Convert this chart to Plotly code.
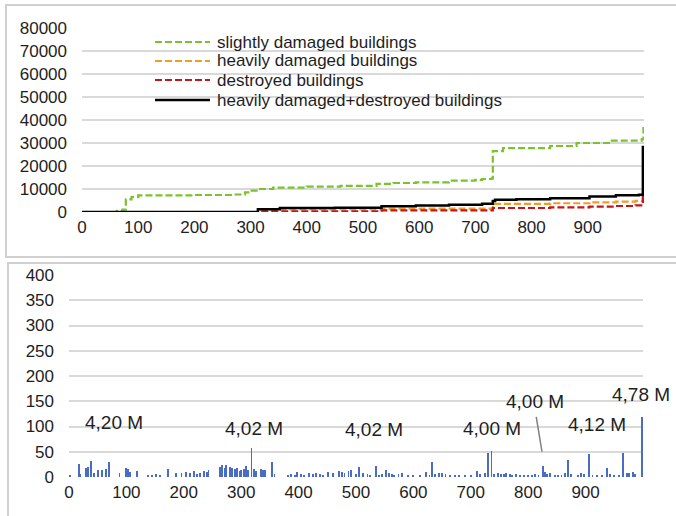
import plotly.graph_objects as go

# ---------------- data: top panel (cumulative counts, step lines) ----------------
slight_x = [0, 62, 72, 78, 88, 100, 200, 270, 290, 300, 313, 340, 400, 460, 524, 554, 594, 653, 700, 712, 729, 731, 749, 833, 880, 940, 996, 999, 1000]
slight_y = [0, 500, 1000, 5500, 6500, 7200, 7400, 7600, 8500, 9300, 10000, 10600, 11000, 11400, 12200, 12600, 12900, 13600, 14000, 14350, 14650, 26500, 27800, 28700, 30000, 31000, 31700, 36500, 36500]

heavy_x = [0, 313, 352, 533, 731, 735, 833, 903, 950, 985, 998, 1000]
heavy_y = [0, 800, 1100, 1500, 2800, 3500, 3800, 4200, 4500, 4800, 6600, 6600]

destroyed_x = [0, 313, 533, 731, 833, 903, 950, 985, 998, 1000]
destroyed_y = [0, 300, 700, 1750, 2000, 2300, 2600, 2900, 8800, 8800]

combined_x = [0, 313, 352, 450, 533, 594, 653, 712, 731, 735, 773, 833, 903, 950, 991, 998, 1000]
combined_y = [0, 1200, 1700, 1900, 2500, 2800, 3200, 3600, 4800, 5300, 5500, 5950, 6700, 7250, 7500, 28300, 28300]

series_names = ["slightly damaged buildings", "heavily damaged buildings",
                "destroyed buildings", "heavily damaged+destroyed buildings"]

# ---------------- data: bottom panel (spikes) ----------------
bar_x = [2, 17, 20, 30, 33, 38, 43, 51, 58, 64, 70, 88, 99, 102, 106, 118, 138, 144, 152, 159,
         173, 187, 196, 204, 211, 217, 223, 229, 235, 240, 243, 263, 267, 271, 274, 280, 284, 289, 293, 297,
         300, 305, 309, 312, 318, 323, 326, 334, 338, 342, 353, 358, 381, 387, 393, 398, 404, 410, 418, 425,
         430, 437, 443, 452, 460, 470, 475, 480, 487, 492, 500, 506, 512, 520, 524, 535, 540, 546, 553, 557,
         563, 566, 574, 580, 590, 600, 612, 622, 628, 633, 637, 645, 650, 656, 663, 672, 680, 690, 700, 711,
         716, 724, 730, 736, 740, 748, 752, 758, 762, 768, 772, 778, 785, 792, 800, 806, 812, 818, 825, 829,
         833, 838, 846, 852, 858, 864, 870, 874, 886, 892, 898, 906, 912, 920, 928, 938, 942, 950, 958, 965,
         972, 976, 982, 986, 999]
bar_y = [3, 26, 5, 17, 20, 32, 7, 14, 14, 15, 29, 7, 18, 16, 10, 12, 3, 3, 5, 3,
         16, 7, 8, 10, 8, 11, 6, 8, 11, 10, 14, 20, 23, 18, 23, 20, 17, 15, 18, 12,
         14, 15, 22, 13, 57, 16, 12, 15, 13, 14, 29, 6, 4, 5, 4, 10, 6, 4, 8, 6,
         7, 5, 3, 10, 8, 12, 10, 8, 12, 13, 5, 20, 8, 6, 3, 22, 3, 5, 13, 8,
         6, 3, 6, 7, 3, 3, 3, 10, 3, 30, 5, 8, 8, 6, 3, 3, 3, 2, 2, 12,
         5, 8, 48, 52, 5, 7, 6, 6, 8, 5, 3, 5, 2, 3, 2, 3, 6, 4, 22, 10,
         6, 8, 3, 4, 3, 8, 33, 5, 4, 8, 6, 45, 3, 2, 2, 17, 5, 3, 2, 48,
         8, 8, 10, 5, 119]

label_text = ["4,20 M", "4,02 M", "4,02 M", "4,00 M", "4,00 M", "4,12 M", "4,78 M"]
label_x = [78, 323, 532, 737, 812, 920, 996]
label_y = [107, 97, 94, 97, 149, 103, 163]

leader_x = [814, 824]
leader_y = [119, 50]

top_ticks_x = list(range(0, 1000, 100))
top_ticks_y = list(range(0, 80001, 10000))
bot_ticks_y = list(range(0, 401, 50))

# ---------------- styling ----------------
W, H = 676, 516
FONT = "Liberation Sans, Arial, Helvetica, sans-serif"
TXT = "#1e1e1e"
GRID = "#d9d9d9"
colors = ["#7cc22c", "#f29b26", "#c4161c", "#000000"]
dashes = ["7px,3px", "7px,3px", "7px,3px", "solid"]
widths = [2.2, 2.2, 2.2, 2.5]

fig = go.Figure()
for xs, ys, name, c, d, w in zip([slight_x, heavy_x, destroyed_x, combined_x],
                                 [slight_y, heavy_y, destroyed_y, combined_y],
                                 series_names, colors, dashes, widths):
    fig.add_trace(go.Scatter(x=xs, y=ys, mode="lines", name=name, line_shape="hv",
                             line=dict(color=c, dash=d, width=w), showlegend=False,
                             xaxis="x", yaxis="y"))

fig.add_trace(go.Bar(x=bar_x, y=bar_y, width=1.6, marker=dict(color="#4a6cc4", line_width=0),
                     showlegend=False, xaxis="x2", yaxis="y2"))


def px_x(p):
    return p / W


def px_y(p):
    return 1 - p / H


axis_font = dict(family=FONT, size=17, color=TXT)
common = dict(zeroline=False, showline=False, ticks="", tickfont=axis_font, automargin=False)

fig.update_layout(
    template="none",
    width=W, height=H,
    margin=dict(l=0, r=0, t=0, b=0, pad=0),
    paper_bgcolor="white", plot_bgcolor="white",
    font=dict(family=FONT, color=TXT),
    xaxis=dict(domain=[px_x(82), px_x(644)], range=[0, 1000], tickvals=top_ticks_x,
               showgrid=False, anchor="y", ticklabelstandoff=3, **common),
    yaxis=dict(domain=[px_y(212), px_y(28)], range=[0, 80000], tickvals=top_ticks_y,
               tickformat="d", showgrid=True, gridcolor=GRID, gridwidth=1.5,
               anchor="x", ticklabelstandoff=14, **common),
    xaxis2=dict(domain=[px_x(69), px_x(643)], range=[0, 1000], tickvals=top_ticks_x,
                showgrid=False, anchor="y2", ticklabelstandoff=3, **common),
    yaxis2=dict(domain=[px_y(477), px_y(275)], range=[0, 400], tickvals=bot_ticks_y,
                tickformat="d", showgrid=True, gridcolor=GRID, gridwidth=1.5,
                anchor="x2", ticklabelstandoff=14, **common),
    bargap=0,
    showlegend=False,
)

shapes = [
    # panel frames
    dict(type="rect", xref="paper", yref="paper", x0=px_x(6), x1=1.02, y0=px_y(257), y1=px_y(5),
         line=dict(color="#d0d0d0", width=2), fillcolor="rgba(0,0,0,0)", layer="below"),
    dict(type="rect", xref="paper", yref="paper", x0=px_x(8), x1=1.02, y0=-0.02, y1=px_y(263),
         line=dict(color="#d0d0d0", width=2), fillcolor="rgba(0,0,0,0)", layer="below"),
    # leader line for annotation
    dict(type="line", xref="x2", yref="y2", x0=leader_x[0], y0=leader_y[0], x1=leader_x[1], y1=leader_y[1],
         line=dict(color="#808080", width=1.5)),
]

# manual legend (long line samples as in the reference)
leg_rows = [42, 61, 80, 100]
annotations = []
for row, name, c, d, w in zip(leg_rows, series_names, colors, dashes, widths):
    shapes.append(dict(type="line", xref="paper", yref="paper", x0=px_x(155), x1=px_x(210),
                       y0=px_y(row), y1=px_y(row), line=dict(color=c, dash=d, width=w)))
    annotations.append(dict(xref="paper", yref="paper", x=px_x(215), y=px_y(row), text=name,
                            showarrow=False, xanchor="left", yanchor="middle",
                            font=dict(family=FONT, size=17, color=TXT)))

for t, x, y in zip(label_text, label_x, label_y):
    annotations.append(dict(xref="x2", yref="y2", x=x, y=y, text=t, showarrow=False,
                            xanchor="center", yanchor="middle",
                            font=dict(family=FONT, size=19, color=TXT)))

fig.update_layout(shapes=shapes, annotations=annotations)

fig.write_html(
    "out.html",
    config={"displayModeBar": False},
    post_script="document.body.style.margin='0';document.body.style.overflow='hidden';",
)
